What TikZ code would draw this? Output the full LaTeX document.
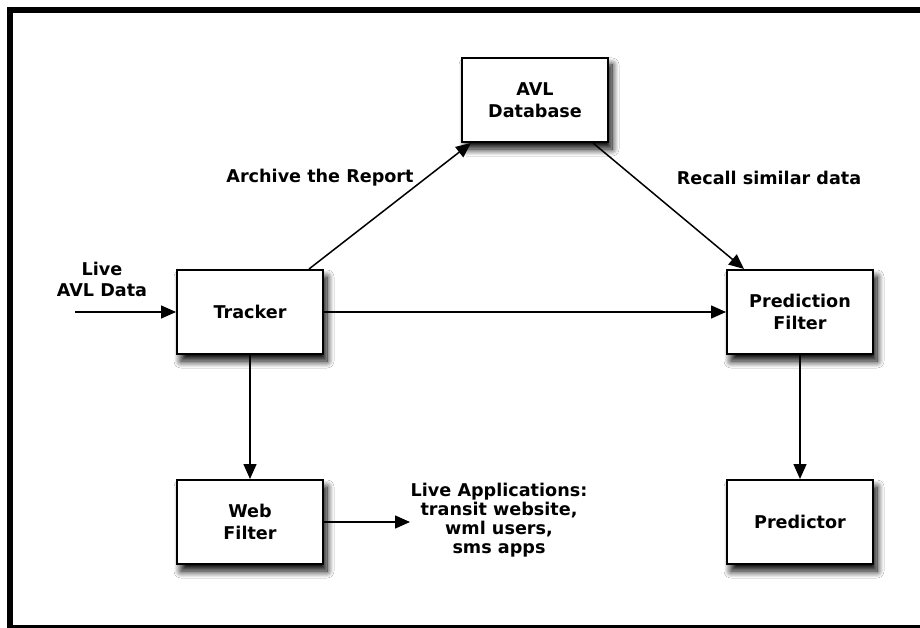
\documentclass[tikz,border=0pt]{standalone}
\usepackage{fontspec}
\setmainfont{DejaVu Sans}
\usetikzlibrary{arrows.meta,shadows.blur}
\begin{document}
\begin{tikzpicture}[x=1pt,y=-1pt,
  font=\fontsize{17.6pt}{22pt}\selectfont\bfseries,
  blockbox/.style={draw=black, line width=2pt, fill=white, minimum width=146pt, minimum height=84pt, align=center, inner sep=0pt,
    blur shadow={shadow xshift=4pt, shadow yshift=-7pt, shadow blur steps=14, shadow opacity=100, shadow blur radius=7pt}},
  lbl/.style={align=center, inner sep=0pt},
  conn/.style={line width=1.5pt, -{Triangle[length=15pt,width=13pt]}}]
\useasboundingbox (0,0) rectangle (920,628);
\clip (0,0) rectangle (920,628);
\fill[white] (0,0) rectangle (920,628);
\draw[line width=6pt] (10,10) rectangle (940,628);

\node[blockbox] (db) at (535,100) {AVL\\Database};
\node[blockbox] (tracker) at (250,312) {Tracker};
\node[blockbox] (pf) at (800,312) {Prediction\\Filter};
\node[blockbox] (web) at (250,522) {Web\\Filter};
\node[blockbox] (pred) at (800,522) {Predictor};

\node[lbl] (live) at (102,279) {Live\\[-1pt]AVL Data};
\node[lbl] (archive) at (320,178) {Archive the Report};
\node[lbl] (recall) at (769,178) {Recall similar data};
\node[lbl, font=\fontsize{17.6pt}{19pt}\selectfont\bfseries] (apps) at (499,520) {Live Applications:\\transit website,\\wml users,\\sms apps};

\coordinate (livestart) at (75,312);
\coordinate (appsend) at (410,522);

\draw[conn] (livestart) -- (tracker.west);
\draw[conn] (tracker.east) -- (pf.west);
\draw[conn] ([xshift=-15pt]tracker.north east) -- ([xshift=10pt]db.south west);
\draw[conn] ([xshift=-16pt]db.south east) -- ([xshift=18pt]pf.north west);
\draw[conn] (tracker.south) -- (web.north);
\draw[conn] (pf.south) -- (pred.north);
\draw[conn] (web.east) -- (appsend);
\end{tikzpicture}
\end{document}
